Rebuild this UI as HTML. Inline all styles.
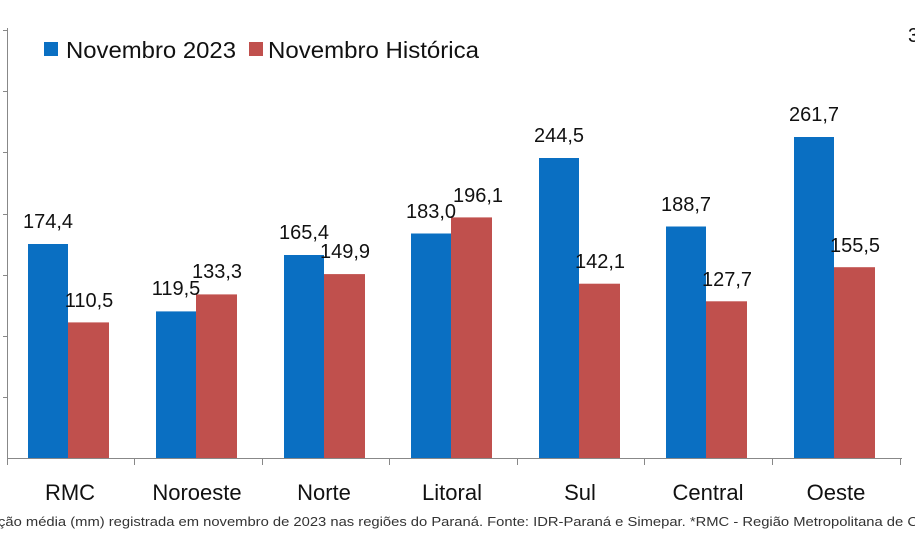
<!DOCTYPE html>
<html><head><meta charset="utf-8"><style>
html,body{margin:0;padding:0;background:#fff;}
svg{display:block;font-family:"Liberation Sans",sans-serif;}
</style></head><body>
<svg width="915" height="555" viewBox="0 0 915 555">
<g stroke="#888" stroke-width="1">
<line x1="7.5" y1="28" x2="7.5" y2="458"/>
<line x1="7" y1="458.5" x2="902" y2="458.5"/>
<line x1="3" y1="30.5" x2="7" y2="30.5"/><line x1="3" y1="91.5" x2="7" y2="91.5"/>
<line x1="3" y1="152.5" x2="7" y2="152.5"/><line x1="3" y1="214.5" x2="7" y2="214.5"/>
<line x1="3" y1="275.5" x2="7" y2="275.5"/><line x1="3" y1="336.5" x2="7" y2="336.5"/>
<line x1="3" y1="397.5" x2="7" y2="397.5"/>
<line x1="7.5" y1="458" x2="7.5" y2="465"/><line x1="134.5" y1="458" x2="134.5" y2="465"/>
<line x1="262.5" y1="458" x2="262.5" y2="465"/><line x1="389.5" y1="458" x2="389.5" y2="465"/>
<line x1="517.5" y1="458" x2="517.5" y2="465"/><line x1="644.5" y1="458" x2="644.5" y2="465"/>
<line x1="772.5" y1="458" x2="772.5" y2="465"/><line x1="900.5" y1="458" x2="900.5" y2="465"/>
</g>
<rect x="44" y="42" width="14" height="14" fill="#0a6fc2"/>
<text x="66" y="58" font-size="23" fill="#111" textLength="170" lengthAdjust="spacingAndGlyphs">Novembro 2023</text>
<rect x="249" y="42" width="14" height="14" fill="#c0504d"/>
<text x="268" y="58" font-size="23" fill="#111" textLength="211" lengthAdjust="spacingAndGlyphs">Novembro Histórica</text>
<text x="908" y="42" font-size="20" fill="#111">3</text>
<g font-size="20" fill="#111" text-anchor="middle">
<rect x="28" y="244" width="40" height="214" fill="#0a6fc2"/><rect x="68" y="322.4" width="41" height="135.6" fill="#c0504d"/>
<text x="48" y="228">174,4</text><text x="89" y="307">110,5</text>
<rect x="156" y="311.4" width="40" height="146.6" fill="#0a6fc2"/><rect x="196" y="294.4" width="41" height="163.6" fill="#c0504d"/>
<text x="176" y="295">119,5</text><text x="217" y="278">133,3</text>
<rect x="284" y="255" width="40" height="203" fill="#0a6fc2"/><rect x="324" y="274.1" width="41" height="183.9" fill="#c0504d"/>
<text x="304" y="239">165,4</text><text x="345" y="258">149,9</text>
<rect x="411" y="233.5" width="40" height="224.5" fill="#0a6fc2"/><rect x="451" y="217.4" width="41" height="240.6" fill="#c0504d"/>
<text x="431" y="218">183,0</text><text x="478" y="202">196,1</text>
<rect x="539" y="158" width="40" height="300" fill="#0a6fc2"/><rect x="579" y="283.7" width="41" height="174.3" fill="#c0504d"/>
<text x="559" y="142">244,5</text><text x="600" y="268">142,1</text>
<rect x="666" y="226.5" width="40" height="231.5" fill="#0a6fc2"/><rect x="706" y="301.3" width="41" height="156.7" fill="#c0504d"/>
<text x="686" y="211">188,7</text><text x="727" y="286">127,7</text>
<rect x="794" y="137" width="40" height="321" fill="#0a6fc2"/><rect x="834" y="267.2" width="41" height="190.8" fill="#c0504d"/>
<text x="814" y="121">261,7</text><text x="855" y="252">155,5</text>
</g>
<g font-size="22" fill="#111" text-anchor="middle">
<text x="70" y="500">RMC</text><text x="197" y="500">Noroeste</text><text x="324" y="500">Norte</text>
<text x="452" y="500">Litoral</text><text x="580" y="500">Sul</text><text x="708" y="500">Central</text>
<text x="836" y="500">Oeste</text>
</g>
<text x="-2" y="526" font-size="13" fill="#333" textLength="920" lengthAdjust="spacingAndGlyphs">ção média (mm) registrada em novembro de 2023 nas regiões do Paraná. Fonte: IDR-Paraná e Simepar. *RMC - Região Metropolitana de C</text>
</svg>
</body></html>
